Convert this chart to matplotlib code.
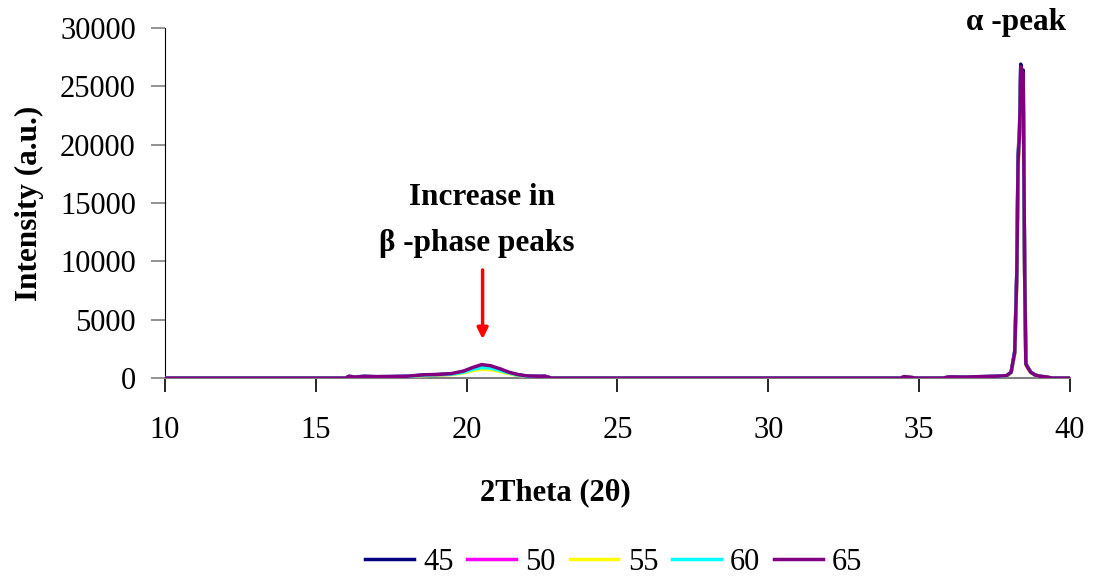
import matplotlib
matplotlib.use("Agg")
import matplotlib.pyplot as plt

# diffraction angle grid (2 theta, degrees)
two_theta = [10.0, 16.0, 16.1, 16.3, 16.6, 17.0, 17.5, 18.0, 18.6, 19.0,
             19.5, 19.9, 20.2, 20.5, 20.8, 21.1, 21.4, 21.7, 22.0, 22.4,
             22.6, 22.8, 34.4, 34.5, 34.7, 34.9, 35.8, 36.0, 36.5, 37.0,
             37.5, 37.9, 38.05, 38.17, 38.24, 38.28, 38.33, 38.37, 38.41, 38.45,
             38.5, 38.54, 38.6, 38.7, 38.85, 39.0, 39.2, 39.4, 40.0]

int_45 = [0, 0, 140, 90, 130, 110, 120, 140, 250, 290,
          340, 520, 760, 950, 880, 680, 430, 260, 160, 130,
          140, 0, 0, 110, 50, 0, 0, 90, 70, 110,
          140, 190, 480, 2300, 9200, 19000, 21500, 26900, 25200, 26400,
          9200, 1250, 950, 520, 260, 150, 90, 0, 0]
int_50 = [0, 0, 120, 80, 120, 100, 110, 130, 230, 270,
          320, 480, 700, 850, 800, 620, 420, 250, 150, 120,
          130, 0, 0, 100, 60, 0, 0, 80, 60, 100,
          130, 180, 450, 2100, 8600, 18200, 20800, 26300, 24600, 25800,
          8800, 1150, 900, 480, 240, 140, 80, 0, 0]
int_55 = [0, 0, 110, 70, 110, 90, 100, 120, 210, 250,
          300, 440, 640, 750, 720, 560, 380, 230, 140, 110,
          120, 0, 0, 90, 50, 0, 0, 70, 60, 90,
          120, 170, 430, 2000, 8300, 17800, 20400, 25900, 24200, 25400,
          8500, 1100, 850, 450, 230, 130, 80, 0, 0]
int_60 = [0, 0, 130, 90, 140, 110, 120, 140, 240, 280,
          330, 500, 740, 900, 850, 660, 440, 260, 160, 130,
          140, 0, 0, 110, 50, 0, 0, 90, 70, 110,
          140, 190, 470, 2200, 8900, 18600, 21100, 26600, 24900, 26000,
          9000, 1200, 920, 500, 250, 150, 90, 0, 0]
int_65 = [0, 0, 150, 80, 150, 120, 130, 150, 280, 300,
          380, 600, 900, 1150, 1050, 800, 500, 300, 180, 150,
          160, 0, 0, 120, 60, 0, 0, 100, 80, 120,
          150, 200, 500, 2200, 9000, 18500, 21000, 26700, 25000, 26200,
          9000, 1200, 900, 500, 250, 150, 100, 0, 0]

series_labels = ["45", "50", "55", "60", "65"]
series_colors = ["#000080", "#ff00ff", "#ffff00", "#00ffff", "#800080"]

serif = ["Liberation Serif", "DejaVu Serif"]
plt.rcParams["font.family"] = serif

fig = plt.figure(figsize=(10.96, 5.83), dpi=100)
ax = fig.add_axes([0.1505, 0.3516, 0.8257, 0.6004])

for ys, lab, col in zip([int_45, int_50, int_55, int_60, int_65],
                        series_labels, series_colors):
    ax.plot(two_theta, ys, color=col, lw=2.5, label=lab, zorder=3)

ax.set_xlim(10, 40)
ax.set_ylim(0, 30000)
ax.set_xticks([10, 15, 20, 25, 30, 35, 40])
ax.set_yticks(range(0, 30001, 5000))

for side in ("top", "right"):
    ax.spines[side].set_visible(False)
ax.spines["left"].set_color("black")
ax.spines["bottom"].set_color("#808080")
ax.spines["bottom"].set_linewidth(1.5)

ax.tick_params(axis="y", direction="out", length=10, width=1.2,
               color="#808080", labelsize=22, pad=11)
ax.tick_params(axis="x", direction="out", length=10, width=1.2,
               color="black", labelsize=22, pad=17)

ax.set_ylabel("Intensity (a.u.)", fontsize=22.5, fontweight="bold")
ax.yaxis.set_label_coords(-0.134, 0.5)
ax.set_xlabel("2Theta (2θ)", fontsize=22, fontweight="bold")
ax.xaxis.set_label_coords(0.431, -0.285)

# annotations
ax.text(20.5, 15500, "Increase in", ha="center", va="center",
        fontsize=22.5, fontweight="bold")
ax.text(20.35, 11500, "β -phase peaks", ha="center", va="center",
        fontsize=22.5, fontweight="bold")
ax.annotate("", xy=(20.53, 3100), xytext=(20.53, 9500),
            arrowprops=dict(arrowstyle="-|>", color="red", lw=2.5,
                            mutation_scale=16))
ax.text(38.2, 30500, "α -peak", ha="center", va="center",
        fontsize=22.5, fontweight="bold", clip_on=False)

leg = fig.legend(loc="center", bbox_to_anchor=(0.56, 0.035), ncol=5,
                 frameon=False, fontsize=22, handlelength=1.6,
                 handletextpad=0.3, columnspacing=0.45)

fig.savefig("out.png", dpi=100)
